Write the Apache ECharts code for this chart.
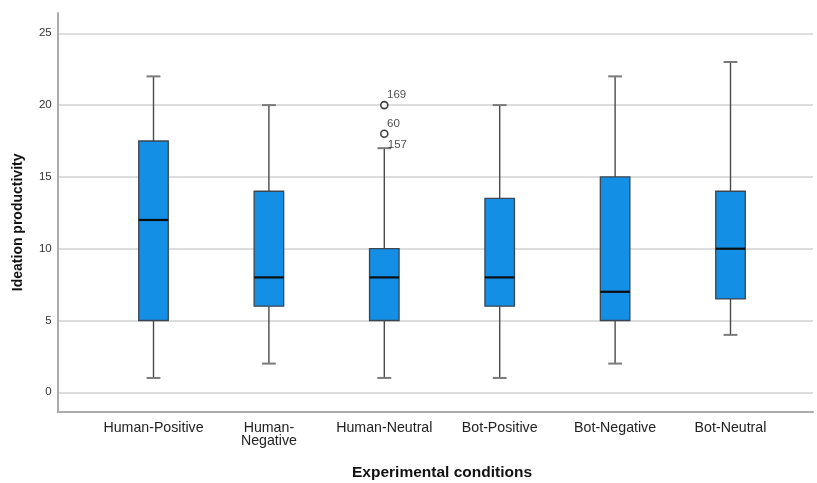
<!DOCTYPE html>
<html><head><meta charset="utf-8">
<script src="https://cdn.jsdelivr.net/npm/echarts@6/dist/echarts.min.js"></script>
<style>html,body{margin:0;padding:0;background:#fff}#c{width:817px;height:483px}</style>
</head><body><div id="c"></div>
<script>
const categories = ['Human-Positive','Human-\nNegative','Human-Neutral','Bot-Positive','Bot-Negative','Bot-Neutral'];
const mins    = [1, 2, 1, 1, 2, 4];
const q1s     = [5, 6, 5, 6, 5, 6.5];
const medians = [12, 8, 8, 8, 7, 10];
const q3s     = [17.5, 14, 10, 13.5, 15, 14];
const maxs    = [22, 20, 17, 20, 22, 23];
const outliers = [[2, 20, '169'], [2, 18, '60']];
const whiskerLabels = [[2, 17, '157']];
const yMin = 0, yMax = 25, yStep = 5;

const FONT = "'Liberation Sans', Arial, sans-serif";
const chart = echarts.init(document.getElementById('c'), null, {renderer: 'canvas'});

const boxData = categories.map((c, i) => [i, mins[i], q1s[i], medians[i], q3s[i], maxs[i]]);

function renderBox(params, api) {
  const i = api.value(0);
  const band = api.size([1, 0])[0];
  const bw = band * 0.256, cw = band * 0.12;
  const x = api.coord([i, 0])[0];
  const pMin = api.coord([i, api.value(1)])[1];
  const pQ1 = api.coord([i, api.value(2)])[1];
  const pMed = api.coord([i, api.value(3)])[1];
  const pQ3 = api.coord([i, api.value(4)])[1];
  const pMax = api.coord([i, api.value(5)])[1];
  const wStyle = {stroke: '#4a4a4a', lineWidth: 1.4};
  const cStyle = {stroke: '#7a7a7a', lineWidth: 2};
  return {type: 'group', children: [
    {type: 'line', shape: {x1: x, y1: pMax, x2: x, y2: pQ3}, style: wStyle},
    {type: 'line', shape: {x1: x, y1: pQ1, x2: x, y2: pMin}, style: wStyle},
    {type: 'line', shape: {x1: x - cw / 2, y1: pMax, x2: x + cw / 2, y2: pMax}, style: cStyle},
    {type: 'line', shape: {x1: x - cw / 2, y1: pMin, x2: x + cw / 2, y2: pMin}, style: cStyle},
    {type: 'rect', shape: {x: x - bw / 2, y: pQ3, width: bw, height: pQ1 - pQ3},
      style: {fill: '#138fe6', stroke: '#3c4650', lineWidth: 1.3}},
    {type: 'line', shape: {x1: x - bw / 2, y1: pMed, x2: x + bw / 2, y2: pMed},
      style: {stroke: '#0d0d0d', lineWidth: 2.2}}
  ]};
}

const option = {
  backgroundColor: '#fff',
  animation: false,
  textStyle: {fontFamily: FONT},
  grid: [
    {left: 95.8, width: 692.4, top: 33.3, height: 359, containLabel: false, outerBoundsMode: 'none'},
    {left: 57.7, right: 4, top: 33.3, height: 359, containLabel: false, outerBoundsMode: 'none'},
    {left: 57.7, right: 4, top: 13, height: 398.7, containLabel: false, outerBoundsMode: 'none'}
  ],
  xAxis: [
    {gridIndex: 0, type: 'category', data: categories,
      axisLine: {show: false}, axisTick: {show: false}, splitLine: {show: false},
      axisLabel: {interval: 0, hideOverlap: false, margin: 29, fontSize: 14.2, color: '#222',
        lineHeight: 13.5, fontFamily: FONT},
      name: 'Experimental conditions', nameLocation: 'middle', nameGap: 72,
      nameTextStyle: {fontSize: 15.5, fontWeight: 'bold', color: '#111', fontFamily: FONT}},
    {gridIndex: 1, type: 'value', show: false, min: 0, max: 1},
    {gridIndex: 2, type: 'value', min: 0, max: 1,
      axisLine: {show: true, lineStyle: {color: '#ababab', width: 2}},
      axisTick: {show: false}, axisLabel: {show: false}, splitLine: {show: false}}
  ],
  yAxis: [
    {gridIndex: 0, type: 'value', min: yMin, max: yMax, show: false},
    {gridIndex: 1, type: 'value', min: yMin, max: yMax, interval: yStep,
      axisLine: {show: false}, axisTick: {show: false},
      axisLabel: {margin: 6, fontSize: 11.5, color: '#333', fontFamily: FONT},
      splitLine: {show: true, lineStyle: {color: '#d2d2d2', width: 1.5}}},
    {gridIndex: 2, type: 'value', min: 0, max: 1,
      axisLine: {show: true, lineStyle: {color: '#ababab', width: 2}},
      axisTick: {show: false}, axisLabel: {show: false}, splitLine: {show: false},
      name: 'Ideation productivity', nameLocation: 'middle', nameGap: 33,
      nameTextStyle: {fontSize: 14, fontWeight: 'bold', color: '#111', fontFamily: FONT,
        padding: [0, 20, 0, 0]}}
  ],
  series: [
    {type: 'custom', xAxisIndex: 0, yAxisIndex: 0, data: boxData,
      encode: {x: 0, y: [1, 2, 3, 4, 5]}, renderItem: renderBox, clip: false, z: 3},
    {type: 'scatter', xAxisIndex: 0, yAxisIndex: 0, data: outliers,
      symbol: 'circle', symbolSize: 7, z: 4,
      itemStyle: {color: '#fff', borderColor: '#111', borderWidth: 1.6},
      label: {show: true, formatter: p => p.value[2], position: [7, -12], align: 'left',
        fontSize: 11.5, color: '#222', fontFamily: FONT}},
    {type: 'scatter', xAxisIndex: 0, yAxisIndex: 0, data: whiskerLabels,
      symbol: 'circle', symbolSize: 1, z: 4,
      itemStyle: {color: 'rgba(0,0,0,0)'},
      label: {show: true, formatter: p => p.value[2], position: [4, -9], align: 'left',
        fontSize: 11.5, color: '#222', fontFamily: FONT}}
  ]
};
chart.setOption(option);
</script>
</body></html>
